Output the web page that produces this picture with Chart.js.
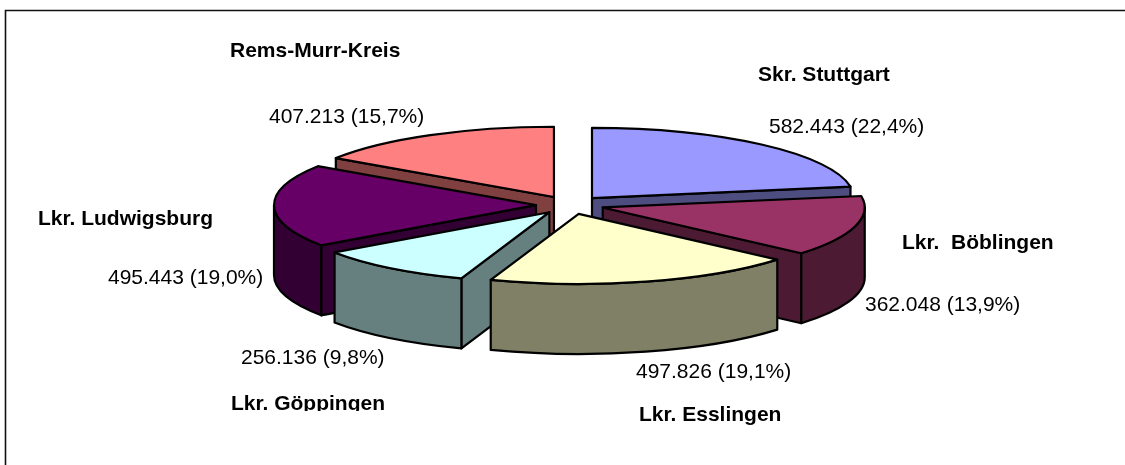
<!DOCTYPE html>
<html><head><meta charset="utf-8">
<style>
html,body{margin:0;padding:0;background:#fff;overflow:hidden}
#wrap{position:relative;width:1125px;height:465px}
canvas{display:block}
</style>
<script src="https://cdn.jsdelivr.net/npm/chart.js@4/dist/chart.umd.min.js"></script>
</head><body><div id="wrap"><canvas id="c" width="1125" height="465"></canvas></div>
<script>
const categories = ['Skr. Stuttgart','Lkr.  Böblingen','Lkr. Esslingen','Lkr. Göppingen','Lkr. Ludwigsburg','Rems-Murr-Kreis'];
const values = [582443,362048,497826,256136,495443,407213];
const topColors = ['#9999FF','#993366','#FFFFCC','#CCFFFF','#660066','#FF8080'];
const sideColors = ['#4D4D80','#4D1A33','#808066','#668080','#330033','#804040'];

// label layout (left x, baseline y) — kept apart from the data
const namePos = [[758,81],[902,249],[639,421],[231,410],[38,225],[230,57]];
const valuePos = [[769,133],[865,311],[636,378],[241,364],[108,284],[269,123]];

const TILT = 0.268, DEPTH = 70, RADIUS = 262, EXPLODE = 34, FONT_PX = 21;
const total = values.reduce((a,b)=>a+b,0);
const fmtValue = v => String(v).replace(/\B(?=(\d{3})+$)/g,'.');
const fmtPct = v => (v/total*100).toFixed(1).replace('.',',');

const pie3d = {
  id:'pie3d',
  beforeDatasetDraw(chart,args){
    const ctx = chart.ctx, meta = args.meta;
    const cy0 = meta.data[0].y;
    const items = meta.data.map((a,i)=>{
      const o = a.options.offset||0, mid=(a.startAngle+a.endAngle)/2;
      return {i,a0:a.startAngle,a1:a.endAngle,r:a.outerRadius,
        x:a.x+Math.cos(mid)*o, y:cy0+Math.sin(mid)*o*TILT, mid};
    }).sort((p,q)=>p.y-q.y);
    ctx.save();
    ctx.lineJoin='round'; ctx.strokeStyle='#000'; ctx.lineWidth=2.2;
    for(const s of items){
      const ry=s.r*TILT;
      const px=t=>s.x+Math.cos(t)*s.r, py=t=>s.y+Math.sin(t)*ry;
      const paint=(col)=>{ctx.fillStyle=col;ctx.fill();ctx.stroke();};
      const side=sideColors[s.i];
      // radial cut faces that look toward the viewer
      for(const [t,vis] of [[s.a0,Math.cos(s.a0)<0],[s.a1,Math.cos(s.a1)>0]]){
        if(!vis) continue;
        ctx.beginPath();ctx.moveTo(s.x,s.y);ctx.lineTo(px(t),py(t));
        ctx.lineTo(px(t),py(t)+DEPTH);ctx.lineTo(s.x,s.y+DEPTH);ctx.closePath();paint(side);
      }
      // outer wall: part of the rim on the front half of the ellipse
      for(const k of [0,2*Math.PI,-2*Math.PI]){
        const b0=Math.max(s.a0+k,0), b1=Math.min(s.a1+k,Math.PI);
        if(b1>b0){
          ctx.beginPath();ctx.ellipse(s.x,s.y,s.r,ry,0,b0,b1);
          ctx.lineTo(px(b1),py(b1)+DEPTH);
          ctx.ellipse(s.x,s.y+DEPTH,s.r,ry,0,b1,b0,true);
          ctx.closePath();paint(side);
        }
      }
      // top face
      ctx.beginPath();ctx.moveTo(s.x,s.y);ctx.ellipse(s.x,s.y,s.r,ry,0,s.a0,s.a1);ctx.closePath();
      paint(topColors[s.i]);
    }
    ctx.restore();
    return false;
  },
  afterDraw(chart){
    const ctx=chart.ctx;
    ctx.save();
    // frame: top and left edges only
    ctx.strokeStyle='#111';ctx.lineWidth=1.6;
    ctx.beginPath();ctx.moveTo(5.5,465);ctx.lineTo(5.5,10.5);ctx.lineTo(1125,10.5);ctx.stroke();
    ctx.fillStyle='#000';ctx.textBaseline='alphabetic';ctx.textAlign='left';
    categories.forEach((name,i)=>{
      ctx.font=FONT_PX+'px "Liberation Sans", Arial, sans-serif';
      ctx.fillText(fmtValue(values[i])+' ('+fmtPct(values[i])+'%)',valuePos[i][0],valuePos[i][1]);
      ctx.save();
      // the Göppingen name is cut off at its baseline in the source
      if(i===3){ctx.beginPath();ctx.rect(0,0,1125,411);ctx.clip();}
      ctx.font='bold '+FONT_PX+'px "Liberation Sans", Arial, sans-serif';
      ctx.fillText(name,namePos[i][0],namePos[i][1]);
      ctx.restore();
    });
    ctx.restore();
  }
};

new Chart(document.getElementById('c'),{
  type:'pie',
  data:{labels:categories,datasets:[{data:values,backgroundColor:topColors,offset:EXPLODE,borderWidth:0}]},
  options:{responsive:false,animation:false,radius:RADIUS,
    layout:{padding:{left:15,bottom:55}},
    plugins:{legend:{display:false},tooltip:{enabled:false},title:{display:false}}},
  plugins:[pie3d]
});
</script></body></html>
